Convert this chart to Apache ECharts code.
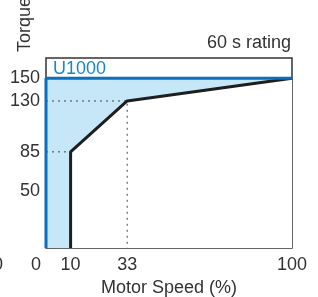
<!DOCTYPE html>
<html>
<head>
<meta charset="utf-8">
<script src="https://cdn.jsdelivr.net/npm/echarts@6/dist/echarts.min.js"></script>
<style>
  html, body { margin: 0; padding: 0; background: #fff; }
  #chart { width: 318px; height: 297px; }
</style>
</head>
<body>
<div id="chart"></div>
<script>
// speed (%) / torque (%) points
var u1000Line = [[0, 0], [0, 150], [100, 150]];
var previousModel = [[10, 0], [10, 85], [33, 130], [100, 150]];
var xTicks = [0, 10, 33, 100];
var yTicks = [50, 85, 130, 150];
var guide130 = [[0, 130], [33, 130], [33, 0]];
var guide85 = [[0, 85], [10, 85]];

var font = 'Liberation Sans, Arial, sans-serif';
var textColor = '#333';

var chart = echarts.init(document.getElementById('chart'));

var option = {
  backgroundColor: '#fff',
  animation: false,
  grid: {
    left: 46, right: 26, top: 58, bottom: 49,
    outerBoundsMode: 'none', containLabel: false,
    show: true, borderColor: '#333', borderWidth: 1.5, backgroundColor: 'transparent'
  },
  xAxis: {
    type: 'value', min: 0, max: 100,
    name: 'Motor Speed (%)', nameLocation: 'middle', nameGap: 30,
    nameTextStyle: { fontFamily: font, fontSize: 18, color: textColor },
    axisLine: { show: false }, axisTick: { show: false }, splitLine: { show: false },
    axisLabel: {
      customValues: xTicks, margin: 8, fontFamily: font, fontSize: 18, color: textColor,
      formatter: function (v) { return v === 0 ? '{z|0}' : String(v); },
      rich: { z: { fontFamily: font, fontSize: 18, color: textColor, padding: [0, 20, 0, 0] } }
    }
  },
  yAxis: {
    type: 'value', min: 0, max: 168,
    axisLine: { show: false }, axisTick: { show: false }, splitLine: { show: false },
    axisLabel: { customValues: yTicks, margin: 6, fontFamily: font, fontSize: 18, color: textColor }
  },
  graphic: [
    { type: 'text', x: 25, y: 52, rotation: Math.PI / 2,
      style: { text: 'Torque (%)', font: '18px ' + font, fill: textColor, textAlign: 'left', textVerticalAlign: 'middle' } },
    { type: 'text', right: 27, top: 34,
      style: { text: '60 s rating', font: '18px ' + font, fill: textColor } },
    { type: 'text', left: 53, top: 60,
      style: { text: 'U1000', font: '18px ' + font, fill: '#1a85cc' } },
    { type: 'text', left: 145, top: 107,
      style: { text: 'Previous model', font: '18px ' + font, fill: textColor } },
    { type: 'text', left: -7, top: 256,
      style: { text: '0', font: '18px ' + font, fill: textColor } }
  ],
  series: [
    {
      type: 'line', data: u1000Line, symbol: 'none', z: 1,
      lineStyle: { width: 0 }, areaStyle: { color: '#c6e7f8', opacity: 1 }
    },
    {
      type: 'line', data: previousModel, symbol: 'none', z: 2,
      lineStyle: { width: 0 }, areaStyle: { color: '#fff', opacity: 1 }
    },
    {
      type: 'line', data: guide130, symbol: 'none', z: 3,
      lineStyle: { color: '#444', width: 1, type: [2, 4] }
    },
    {
      type: 'line', data: guide85, symbol: 'none', z: 3,
      lineStyle: { color: '#444', width: 1, type: [2, 4] }
    },
    {
      type: 'line', data: previousModel, symbol: 'none', z: 4,
      lineStyle: { color: '#1e1e1e', width: 3 }
    },
    {
      type: 'line', data: u1000Line, symbol: 'none', z: 5,
      lineStyle: { color: '#0a6fbd', width: 3 }
    }
  ]
};

chart.setOption(option);
</script>
</body>
</html>
